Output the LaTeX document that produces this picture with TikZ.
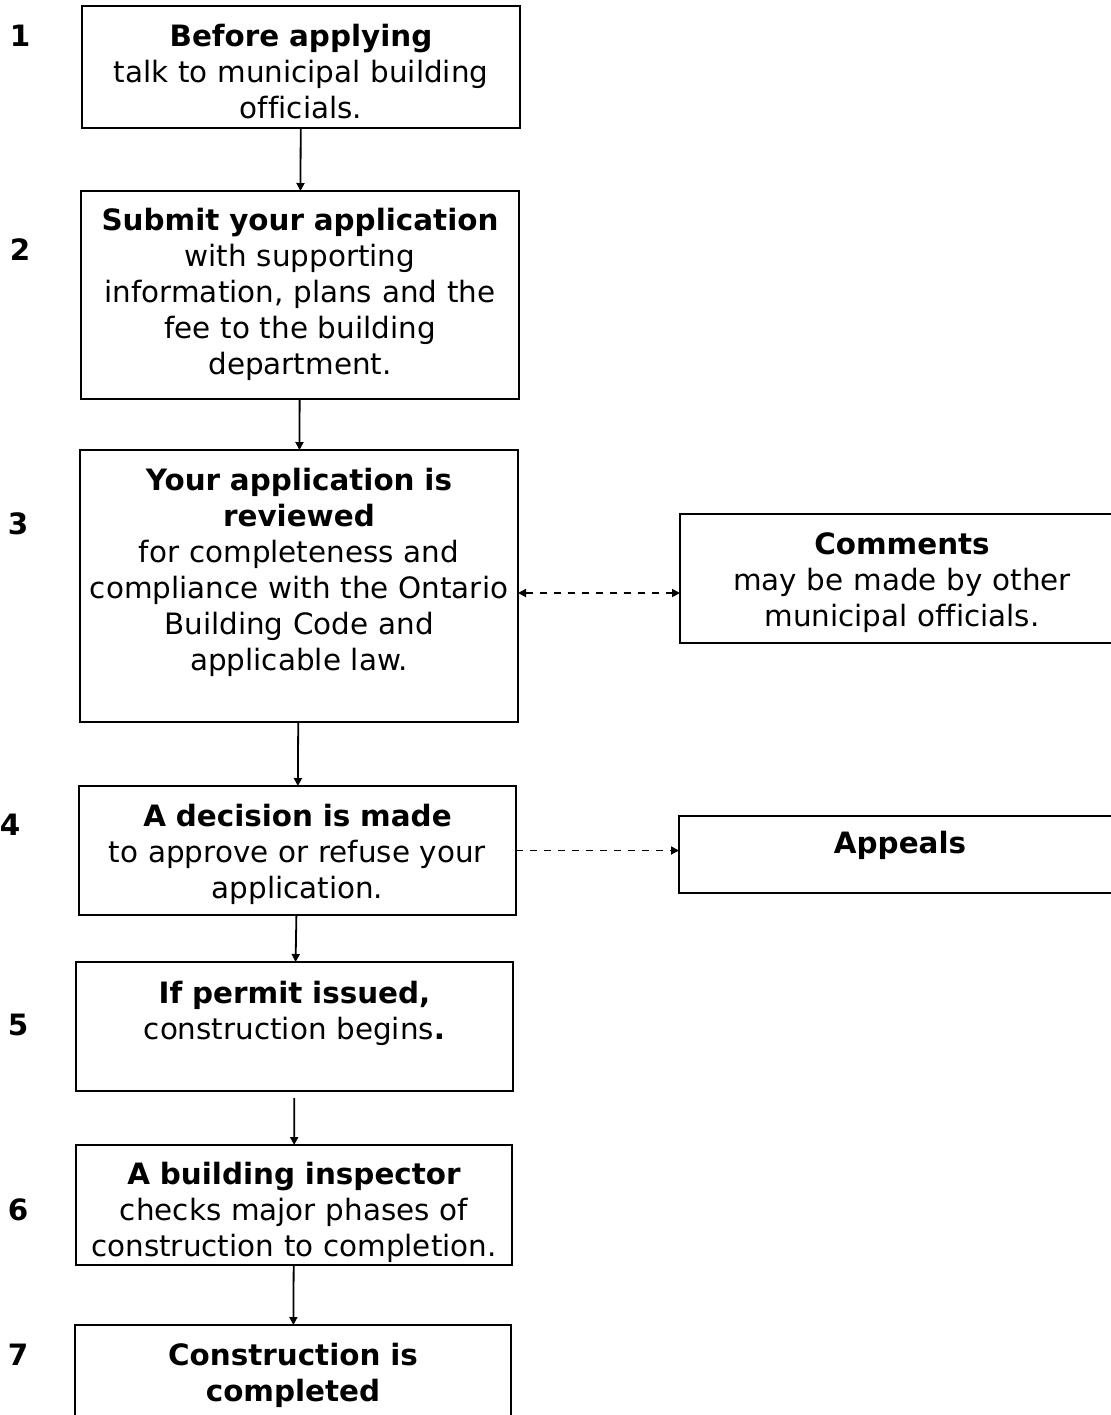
\documentclass[tikz,border=0pt]{standalone}
\usepackage{fontspec}
\setmainfont{DejaVu Sans}[Ligatures=NoCommon]
\usetikzlibrary{arrows.meta}

\begin{document}
\begin{tikzpicture}[x=0.5pt, y=-0.5pt]
\tikzset{ >={Triangle[length=4pt,width=4pt]}, inner sep=0pt, outer sep=0pt,
  font=\fontsize{14.7pt}{18pt}\selectfont,
  stepbox/.style={draw, line width=1pt, align=center, anchor=base, text height=20pt},
  flow/.style={->, line width=0.9pt},
  side/.style={line width=0.9pt, dash pattern=on 3.5pt off 3.5pt},
}

\useasboundingbox (0,0) rectangle (1111,1415);
\clip (0,0) rectangle (1111,1415);

%\draw [lightgray, dashed](0,0) grid[step=50] (1111,1415);

\node (n1) at (20,36) {\textbf{1}};
\node (n2) at (20,250) {\textbf{2}};
\node (n3) at (18,524) {\textbf{3}};
\node (n4) at (10,825) {\textbf{4}};
\node (n5) at (18,1025) {\textbf{5}};
\node (n6) at (18,1210) {\textbf{6}};
\node (n7) at (18,1355) {\textbf{7}};

\node [stepbox, text width=219pt, text depth=41pt] (B1) at (301,46)
  {\textbf{Before applying}\\ talk to municipal building\\ officials.};
\node [stepbox, text width=219pt, text height=19.5pt, text depth=84.5pt] (B2) at (300,230)
  {\textbf{Submit your application}\\ with supporting\\ information, plans and the\\ fee to the building\\ department.};
\node [stepbox, text width=219pt, text depth=116pt] (B3) at (299,490)
  {\textbf{Your application is}\\ \textbf{reviewed}\\ for completeness and\\ compliance with the Ontario\\ Building Code and\\ applicable law.};
\node [stepbox, text width=218.5pt, text depth=44.5pt] (B4) at (297.5,826)
  {\textbf{A decision is made}\\ to approve or refuse your\\ application.};
\node [stepbox, text width=218.5pt, text height=20.5pt, text depth=44pt] (B5) at (294.5,1003)
  {\textbf{If permit issued,}\\ construction begins\textbf{.}};
\node [stepbox, text width=218pt, text height=19.5pt, text depth=40.5pt] (B6) at (294,1184)
  {\textbf{A building inspector}\\ checks major phases of\\ construction to completion.};
\node [stepbox, text width=218pt, text depth=50pt] (B7) at (293,1365)
  {\textbf{Construction is}\\ \textbf{completed}};

\node [stepbox, text width=222pt, text depth=44.5pt] (C) at (902,554)
  {\textbf{Comments}\\ may be made by other\\ municipal officials.};
\node [stepbox, text width=221pt, text height=18.5pt, text depth=20pt] (A) at (900,853)
  {\textbf{Appeals}};

\draw [flow] (B1) -- (B2);
\draw [flow] (B2) -- (B3);
\draw [flow] (B3) -- (B4);
\draw [flow] (B4) -- (B5);
\draw [flow, shorten <=3.5pt] (B5) -- (B6);
\draw [flow] (B6) -- (B7);

\draw [side, <->] (B3.east |- 0,593) -- (C.west |- 0,593);
\draw [side, ->] (B4.east) -- (A.west |- B4.east);

\end{tikzpicture}
\end{document}
